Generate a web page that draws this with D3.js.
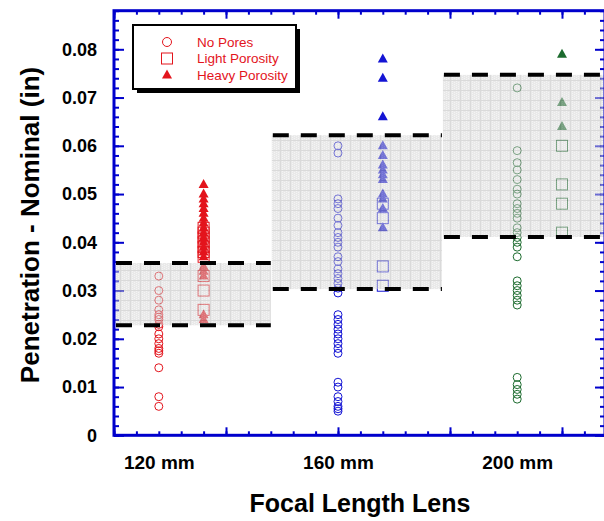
<!DOCTYPE html>
<html>
<head>
<meta charset="utf-8">
<script src="https://cdn.jsdelivr.net/npm/d3@7"></script>
<style>
  body { margin: 0; background: #fff; }
  text { font-family: "Liberation Sans", Arial, Helvetica, sans-serif; }
</style>
</head>
<body>
<svg id="chart" width="604" height="521"></svg>
<script>
// Lens groups (focal length, mm); porosity columns sit 10 mm to the right of each lens
const lensFocal = [120, 160, 200];
const lensLabels = ["120 mm", "160 mm", "200 mm"];
const porosityOffset = 10;
const seriesNames = ["No Pores", "Light Porosity", "Heavy Porosity"];

// Penetration - nominal (in), per lens and porosity class
const noPores120 = [0.033, 0.030, 0.028, 0.026, 0.025, 0.0245, 0.024, 0.023, 0.0225, 0.021, 0.020, 0.019, 0.018, 0.0175, 0.017, 0.014, 0.008, 0.006];
const light120   = [0.043, 0.042, 0.041, 0.040, 0.039, 0.038, 0.037, 0.033, 0.030, 0.026];
const heavy120   = [0.052, 0.050, 0.049, 0.048, 0.047, 0.046, 0.045, 0.044, 0.043, 0.042, 0.041, 0.040, 0.039, 0.038, 0.037, 0.035, 0.034, 0.033, 0.025, 0.024];

const noPores160 = [0.060, 0.0585, 0.049, 0.048, 0.047, 0.045, 0.0435, 0.042, 0.041, 0.040, 0.039, 0.037, 0.036, 0.0345, 0.0335, 0.0325, 0.0315, 0.0305, 0.0295, 0.025, 0.024, 0.023, 0.022, 0.021, 0.020, 0.019, 0.018, 0.017, 0.011, 0.010, 0.008, 0.007, 0.006, 0.0055, 0.005];
const light160   = [0.048, 0.045, 0.035, 0.031];
const heavy160   = [0.078, 0.074, 0.066, 0.060, 0.058, 0.056, 0.055, 0.054, 0.053, 0.050, 0.049, 0.047, 0.043];

const noPores200 = [0.072, 0.059, 0.0565, 0.055, 0.053, 0.051, 0.050, 0.048, 0.047, 0.046, 0.045, 0.043, 0.042, 0.041, 0.040, 0.039, 0.037, 0.032, 0.031, 0.030, 0.029, 0.028, 0.027, 0.012, 0.0105, 0.0095, 0.0085, 0.0075];
const light200   = [0.060, 0.052, 0.048, 0.042];
const heavy200   = [0.079, 0.069, 0.064];

// Acceptance band per lens (in) and its extent along the focal-length axis (mm)
const bandLow   = [0.0228, 0.0303, 0.0411];
const bandHigh  = [0.0357, 0.0622, 0.0747];
const bandStart = [110, 145, 183.2];
const bandEnd   = [145, 183.2, 219.6];

// Axis ticks
const yTickValues = [0, 0.01, 0.02, 0.03, 0.04, 0.05, 0.06, 0.07, 0.08];
const yTickLabels = ["0", "0.01", "0.02", "0.03", "0.04", "0.05", "0.06", "0.07", "0.08"];
const yMinorTicks = d3.range(0, 0.0881, 0.002);
const xMajorTicks = [110, 135, 160, 185, 210];
const xMinorTicks = d3.range(110, 220, 5);

const groupColors = ["#e3141c", "#1414d4", "#1c6b2e"];

const groups = [
  { focal: lensFocal[0], noPores: noPores120, light: light120, heavy: heavy120 },
  { focal: lensFocal[1], noPores: noPores160, light: light160, heavy: heavy160 },
  { focal: lensFocal[2], noPores: noPores200, light: light200, heavy: heavy200 }
];

const svg = d3.select("#chart");
const plotL = 114, plotR = 605, plotT = 10.7, plotB = 435.3;

const x = d3.scaleLinear().domain([110, 219.6]).range([plotL, plotR]);
const y = d3.scaleLinear().domain([0, 0.088]).range([plotB, plotT]);

// Textured fill for the acceptance bands
const defs = svg.append("defs");
const pat = defs.append("pattern").attr("id", "bandFill")
  .attr("width", 10).attr("height", 10).attr("patternUnits", "userSpaceOnUse");
pat.append("rect").attr("width", 10).attr("height", 10).attr("fill", "#d2d2d2");
for (let i = 0; i < 10; i += 2) {
  for (let j = (i / 2) % 2; j < 10; j += 2) {
    pat.append("rect").attr("x", i).attr("y", j).attr("width", 1).attr("height", 1).attr("fill", "#e8e8e8");
  }
}
pat.append("path").attr("d", "M0,0.5H10M0.5,0V10").attr("stroke", "#b4b4b4").attr("stroke-width", 1);

const triPath = "M0,-5.5L5,3.5L-5,3.5Z";

// Data markers
const marks = svg.append("g");
groups.forEach((g, gi) => {
  const col = groupColors[gi];
  marks.append("g").selectAll("circle").data(g.noPores).join("circle")
    .attr("cx", x(g.focal)).attr("cy", d => y(d)).attr("r", 4)
    .attr("fill", "none").attr("stroke", col).attr("stroke-width", 1);
  marks.append("g").selectAll("rect").data(g.light).join("rect")
    .attr("x", x(g.focal + porosityOffset) - 5.5).attr("y", d => y(d) - 5.5)
    .attr("width", 11).attr("height", 11)
    .attr("fill", "none").attr("stroke", col).attr("stroke-width", 1);
  marks.append("g").selectAll("path").data(g.heavy).join("path")
    .attr("transform", d => `translate(${x(g.focal + porosityOffset)},${y(d)})`)
    .attr("d", triPath).attr("fill", col);
});

// Axis ticks (inward) on all four sides
function styleAxis(sel) {
  sel.select(".domain").remove();
  sel.selectAll(".tick line").attr("stroke", "#0000cc").attr("stroke-width", 2);
}
const noLabel = () => "";
svg.append("g").attr("transform", `translate(${plotL},0)`)
  .call(d3.axisLeft(y).tickValues(yMinorTicks).tickSize(-5).tickFormat(noLabel)).call(styleAxis);
svg.append("g").attr("transform", `translate(${plotR},0)`)
  .call(d3.axisRight(y).tickValues(yMinorTicks).tickSize(-5).tickFormat(noLabel)).call(styleAxis);
svg.append("g").attr("transform", `translate(${plotR},0)`)
  .call(d3.axisRight(y).tickValues(yTickValues).tickSize(-10).tickFormat(noLabel)).call(styleAxis);
svg.append("g").attr("transform", `translate(0,${plotB})`)
  .call(d3.axisBottom(x).tickValues(xMinorTicks).tickSize(-4).tickFormat(noLabel)).call(styleAxis);
svg.append("g").attr("transform", `translate(0,${plotB})`)
  .call(d3.axisBottom(x).tickValues(xMajorTicks).tickSize(-8).tickFormat(noLabel)).call(styleAxis);
svg.append("g").attr("transform", `translate(0,${plotT})`)
  .call(d3.axisTop(x).tickValues(xMinorTicks).tickSize(-4).tickFormat(noLabel)).call(styleAxis);
svg.append("g").attr("transform", `translate(0,${plotT})`)
  .call(d3.axisTop(x).tickValues(xMajorTicks).tickSize(-8).tickFormat(noLabel)).call(styleAxis);

const yAxis = svg.append("g").attr("transform", `translate(${plotL},0)`)
  .call(d3.axisLeft(y).tickValues(yTickValues).tickSize(-10).tickPadding(17)
    .tickFormat((d, i) => yTickLabels[i]))
  .call(styleAxis);
yAxis.selectAll("text").attr("font-size", 18).attr("font-weight", "bold")
  .attr("fill", "#000").attr("font-family", "Liberation Sans, Arial, sans-serif");

// Acceptance bands drawn over the markers, then their dashed limits
const bands = d3.range(3).map(i => ({ lo: bandLow[i], hi: bandHigh[i], x0: bandStart[i], x1: bandEnd[i] }));
svg.append("g").selectAll("rect").data(bands).join("rect")
  .attr("x", d => x(d.x0) + 1).attr("y", d => y(d.hi))
  .attr("width", d => x(d.x1) - x(d.x0) - 1).attr("height", d => y(d.lo) - y(d.hi))
  .attr("fill", "url(#bandFill)").attr("opacity", 0.5);
const limitLines = bands.flatMap(d => [{ v: d.hi, x0: d.x0, x1: d.x1 }, { v: d.lo, x0: d.x0, x1: d.x1 }]);
svg.append("g").selectAll("line").data(limitLines).join("line")
  .attr("x1", d => x(d.x0) + 2).attr("x2", d => x(d.x1))
  .attr("y1", d => y(d.v)).attr("y2", d => y(d.v))
  .attr("stroke", "#000").attr("stroke-width", 4).attr("stroke-dasharray", "16,12");

// Frame
svg.append("rect").attr("x", plotL).attr("y", plotT)
  .attr("width", plotR - plotL).attr("height", plotB - plotT)
  .attr("fill", "none").attr("stroke", "#0000cc").attr("stroke-width", 3);

// Lens category labels
const xCat = svg.append("g").attr("transform", `translate(0,${plotB})`)
  .call(d3.axisBottom(x).tickValues(lensFocal).tickSize(0).tickPadding(20)
    .tickFormat((d, i) => lensLabels[i]));
xCat.select(".domain").remove();
xCat.selectAll("text").attr("font-size", 19).attr("font-weight", "bold")
  .attr("fill", "#000").attr("font-family", "Liberation Sans, Arial, sans-serif");

// Axis titles
svg.append("text").attr("x", 360).attr("y", 512).attr("text-anchor", "middle")
  .attr("font-size", 25).attr("font-weight", "bold").text("Focal Length Lens");
svg.append("text").attr("transform", `translate(39,225) rotate(-90)`).attr("text-anchor", "middle")
  .attr("font-size", 26).attr("font-weight", "bold").text("Penetration - Nominal (in)");

// Legend
const lg = svg.append("g").attr("transform", "translate(133,25)");
lg.append("rect").attr("x", 4).attr("y", 4).attr("width", 163).attr("height", 64).attr("fill", "#000");
lg.append("rect").attr("width", 163).attr("height", 64).attr("fill", "#fff")
  .attr("stroke", "#000").attr("stroke-width", 2);
const legendRows = seriesNames.map((name, i) => ({ name, i }));
const row = lg.selectAll("g.row").data(legendRows).join("g")
  .attr("transform", d => `translate(34,${17 + d.i * 16.5})`);
row.each(function (d) {
  const g = d3.select(this);
  if (d.i === 0) g.append("circle").attr("r", 4.5).attr("fill", "none").attr("stroke", groupColors[0]).attr("stroke-width", 1);
  if (d.i === 1) g.append("rect").attr("x", -5.5).attr("y", -5.5).attr("width", 11).attr("height", 11)
    .attr("fill", "none").attr("stroke", groupColors[0]).attr("stroke-width", 1);
  if (d.i === 2) g.append("path").attr("d", triPath).attr("fill", groupColors[0]);
});
row.append("text").attr("x", 30).attr("dy", "0.35em").attr("font-size", 13.5)
  .attr("fill", groupColors[0]).text(d => d.name);
</script>
</body>
</html>
